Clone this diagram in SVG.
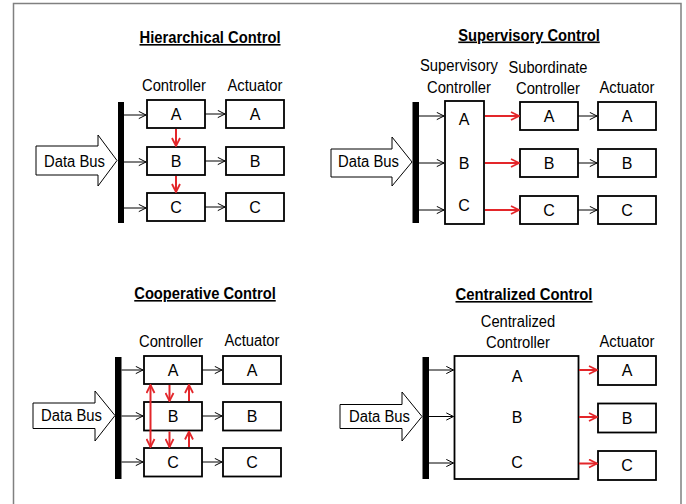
<svg xmlns="http://www.w3.org/2000/svg" width="686" height="504" viewBox="0 0 686 504">
  <defs>
    <style>
      text { font-family: "Liberation Sans", Arial, sans-serif; font-size: 16px; fill: #000; text-anchor: middle; }
      .title { font-weight: bold; text-decoration: underline; }
      .box { fill: #fff; stroke: #000; stroke-width: 1.8; }
      .bus { fill: #000; }
      .feed { fill: #fff; stroke: #000; stroke-width: 1; }
      .wire { fill: none; stroke: #000; stroke-width: 1; }
      .red { fill: none; stroke: #e3262a; stroke-width: 2; }
      .frame { fill: none; stroke: #808080; stroke-width: 1.5; }
    </style>
    <marker id="blk" viewBox="0 0 10 10" markerUnits="userSpaceOnUse" markerWidth="9" markerHeight="9" refX="9" refY="5" orient="auto">
      <path d="M1,1 L9,5 L1,9" fill="none" stroke="#000" stroke-width="1.1"/>
    </marker>
    <marker id="rd" viewBox="0 0 10 10" markerUnits="userSpaceOnUse" markerWidth="10" markerHeight="10" refX="9" refY="5" orient="auto-start-reverse">
      <path d="M1,1 L9,5 L1,9" fill="none" stroke="#e3262a" stroke-width="1.8"/>
    </marker>
  </defs>

  <rect width="686" height="504" fill="#fff"/>
  <!-- outer frame (open at the bottom) -->
  <path class="frame" d="M13.5,504 V3.5 H681 V504"/>

  <!-- ===== Hierarchical Control ===== -->
  <g id="hier">
    <text class="title" x="210" y="43" textLength="141" lengthAdjust="spacingAndGlyphs">Hierarchical Control</text>
    <text x="174" y="91" textLength="64" lengthAdjust="spacingAndGlyphs">Controller</text>
    <text x="255" y="91" textLength="55" lengthAdjust="spacingAndGlyphs">Actuator</text>
    <g id="hier-bus-in"><path class="feed" d="M36,146 H98 V135 L117,160.5 L98,186 V175 H36 Z"/><text x="74.5" y="166.5" textLength="61" lengthAdjust="spacingAndGlyphs">Data Bus</text></g>
    <g id="hier-bus"><rect class="bus" x="118" y="102" width="6" height="121"/></g>
    <g id="hier-ctl-a"><rect class="box" x="147" y="100" width="58" height="28"/><text x="176" y="119.5">A</text></g>
    <g id="hier-ctl-b"><rect class="box" x="147" y="147" width="58" height="28"/><text x="176" y="166.5">B</text></g>
    <g id="hier-ctl-c"><rect class="box" x="147" y="193" width="58" height="28"/><text x="176" y="212.5">C</text></g>
    <g id="hier-act-a"><rect class="box" x="226" y="100" width="58" height="28"/><text x="255" y="119.5">A</text></g>
    <g id="hier-act-b"><rect class="box" x="226" y="147" width="58" height="28"/><text x="255" y="166.5">B</text></g>
    <g id="hier-act-c"><rect class="box" x="226" y="193" width="58" height="28"/><text x="255" y="212.5">C</text></g>
  </g>

  <!-- ===== Supervisory Control ===== -->
  <g id="sup">
    <text class="title" x="529" y="40.5" textLength="141.5" lengthAdjust="spacingAndGlyphs">Supervisory Control</text>
    <text x="459" y="71" textLength="78" lengthAdjust="spacingAndGlyphs">Supervisory</text>
    <text x="459" y="93" textLength="64" lengthAdjust="spacingAndGlyphs">Controller</text>
    <text x="548" y="72.5" textLength="79" lengthAdjust="spacingAndGlyphs">Subordinate</text>
    <text x="548" y="94" textLength="64" lengthAdjust="spacingAndGlyphs">Controller</text>
    <text x="627" y="93" textLength="55" lengthAdjust="spacingAndGlyphs">Actuator</text>
    <g id="sup-bus-in"><path class="feed" d="M331,149 H392 V137 L412,162 L392,186 V177 H331 Z"/><text x="368.5" y="167" textLength="61" lengthAdjust="spacingAndGlyphs">Data Bus</text></g>
    <g id="sup-bus"><rect class="bus" x="412.5" y="102" width="6.5" height="121"/></g>
    <g id="sup-ctl"><rect class="box" x="445" y="101" width="39" height="123"/><text x="464" y="125">A</text><text x="464" y="169">B</text><text x="464" y="211">C</text></g>
    <g id="sup-sub-a"><rect class="box" x="520" y="102" width="58" height="28"/><text x="549" y="121.5">A</text></g>
    <g id="sup-sub-b"><rect class="box" x="520" y="149" width="58" height="28"/><text x="549" y="168.5">B</text></g>
    <g id="sup-sub-c"><rect class="box" x="520" y="196" width="58" height="28"/><text x="549" y="215.5">C</text></g>
    <g id="sup-act-a"><rect class="box" x="598" y="102" width="58" height="28"/><text x="627" y="121.5">A</text></g>
    <g id="sup-act-b"><rect class="box" x="598" y="149" width="58" height="28"/><text x="627" y="168.5">B</text></g>
    <g id="sup-act-c"><rect class="box" x="598" y="196" width="58" height="28"/><text x="627" y="215.5">C</text></g>
  </g>

  <!-- ===== Cooperative Control ===== -->
  <g id="coop">
    <text class="title" x="205" y="299" textLength="141.5" lengthAdjust="spacingAndGlyphs">Cooperative Control</text>
    <text x="171" y="346.5" textLength="64" lengthAdjust="spacingAndGlyphs">Controller</text>
    <text x="252" y="345.5" textLength="55" lengthAdjust="spacingAndGlyphs">Actuator</text>
    <g id="coop-bus-in"><path class="feed" d="M33,403 H95 V391 L115,415.5 L95,441 V428.5 H33 Z"/><text x="71.5" y="420.5" textLength="61" lengthAdjust="spacingAndGlyphs">Data Bus</text></g>
    <g id="coop-bus"><rect class="bus" x="115" y="357" width="6.5" height="122"/></g>
    <g id="coop-ctl-a"><rect class="box" x="144" y="356" width="58" height="28"/><text x="173" y="375.5">A</text></g>
    <g id="coop-ctl-b"><rect class="box" x="144" y="402" width="58" height="28.5"/><text x="173" y="421.5">B</text></g>
    <g id="coop-ctl-c"><rect class="box" x="144" y="448" width="58" height="28.5"/><text x="173" y="467.5">C</text></g>
    <g id="coop-act-a"><rect class="box" x="223" y="356" width="58" height="28"/><text x="252" y="375.5">A</text></g>
    <g id="coop-act-b"><rect class="box" x="223" y="402" width="58" height="28.5"/><text x="252" y="421.5">B</text></g>
    <g id="coop-act-c"><rect class="box" x="223" y="448" width="58" height="28.5"/><text x="252" y="467.5">C</text></g>
  </g>

  <!-- ===== Centralized Control ===== -->
  <g id="cent">
    <text class="title" x="524" y="300" textLength="137" lengthAdjust="spacingAndGlyphs">Centralized Control</text>
    <text x="518" y="326.5" textLength="74.5" lengthAdjust="spacingAndGlyphs">Centralized</text>
    <text x="518" y="347.5" textLength="64" lengthAdjust="spacingAndGlyphs">Controller</text>
    <text x="627" y="346.5" textLength="55" lengthAdjust="spacingAndGlyphs">Actuator</text>
    <g id="cent-bus-in"><path class="feed" d="M340,404.5 H402 V392 L422,416.5 L402,441 V428.5 H340 Z"/><text x="379.5" y="422" textLength="61" lengthAdjust="spacingAndGlyphs">Data Bus</text></g>
    <g id="cent-bus"><rect class="bus" x="422.5" y="357" width="6.5" height="122"/></g>
    <g id="cent-ctl"><rect class="box" x="454.5" y="356" width="124" height="123"/><text x="517" y="381.5">A</text><text x="517" y="423">B</text><text x="517" y="467.5">C</text></g>
    <g id="cent-act-a"><rect class="box" x="598" y="356" width="58" height="29"/><text x="627" y="376">A</text></g>
    <g id="cent-act-b"><rect class="box" x="598" y="403.5" width="58" height="29"/><text x="627" y="423.5">B</text></g>
    <g id="cent-act-c"><rect class="box" x="598" y="451" width="58" height="29"/><text x="627" y="470.5">C</text></g>
  </g>

  <!-- ===== Connectors ===== -->
  <g id="connectors">
    <!-- hierarchical -->
    <path class="wire" marker-end="url(#blk)" d="M124,115 H146"/>
    <path class="wire" marker-end="url(#blk)" d="M124,162 H146"/>
    <path class="wire" marker-end="url(#blk)" d="M124,208 H146"/>
    <path class="wire" marker-end="url(#blk)" d="M205,114 H225"/>
    <path class="wire" marker-end="url(#blk)" d="M205,161 H225"/>
    <path class="wire" marker-end="url(#blk)" d="M205,207 H225"/>
    <path class="red" marker-end="url(#rd)" d="M176,129 V146"/>
    <path class="red" marker-end="url(#rd)" d="M176,176 V192"/>

    <!-- supervisory -->
    <path class="wire" marker-end="url(#blk)" d="M419,116 H444"/>
    <path class="wire" marker-end="url(#blk)" d="M419,163 H444"/>
    <path class="wire" marker-end="url(#blk)" d="M419,210 H444"/>
    <path class="red" marker-end="url(#rd)" d="M485,116 H519"/>
    <path class="red" marker-end="url(#rd)" d="M485,163 H519"/>
    <path class="red" marker-end="url(#rd)" d="M485,210 H519"/>
    <path class="wire" marker-end="url(#blk)" d="M578,116 H597"/>
    <path class="wire" marker-end="url(#blk)" d="M578,163 H597"/>
    <path class="wire" marker-end="url(#blk)" d="M578,210 H597"/>

    <!-- cooperative -->
    <path class="wire" marker-end="url(#blk)" d="M121.5,370 H143"/>
    <path class="wire" marker-end="url(#blk)" d="M121.5,416 H143"/>
    <path class="wire" marker-end="url(#blk)" d="M121.5,462 H143"/>
    <path class="wire" marker-end="url(#blk)" d="M202,370 H222"/>
    <path class="wire" marker-end="url(#blk)" d="M202,416 H222"/>
    <path class="wire" marker-end="url(#blk)" d="M202,462 H222"/>
    <path class="red" marker-start="url(#rd)" marker-end="url(#rd)" d="M150.5,385 V447"/>
    <path class="red" marker-end="url(#rd)" d="M169.5,385 V401"/>
    <path class="red" marker-end="url(#rd)" d="M169.5,431.5 V447"/>
    <path class="red" marker-end="url(#rd)" d="M189,401 V385"/>
    <path class="red" marker-end="url(#rd)" d="M189,447 V431.5"/>

    <!-- centralized -->
    <path class="wire" marker-end="url(#blk)" d="M429,370 H453.5"/>
    <path class="wire" marker-end="url(#blk)" d="M429,416.5 H453.5"/>
    <path class="wire" marker-end="url(#blk)" d="M429,463 H453.5"/>
    <path class="red" marker-end="url(#rd)" d="M579,370 H597"/>
    <path class="red" marker-end="url(#rd)" d="M579,417 H597"/>
    <path class="red" marker-end="url(#rd)" d="M579,463.5 H597"/>
  </g>
</svg>
